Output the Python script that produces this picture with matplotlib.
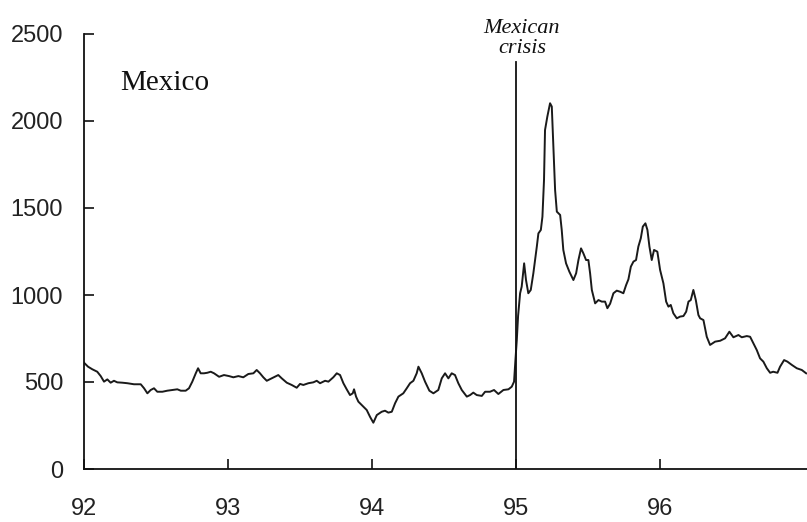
import matplotlib
matplotlib.use("Agg")
import matplotlib.pyplot as plt

# Mexico sovereign spread (basis points); x is decimal year, 92 = Jan 1992
years = [
    92.000, 92.028, 92.058, 92.092, 92.116, 92.139, 92.162, 92.185, 92.208, 92.231,
    92.266, 92.301, 92.347, 92.394, 92.417, 92.440, 92.463, 92.486, 92.509, 92.544,
    92.578, 92.613, 92.648, 92.672, 92.706, 92.729, 92.752, 92.776, 92.792, 92.810,
    92.833, 92.856, 92.880, 92.903, 92.938, 92.972, 93.007, 93.037, 93.072, 93.106,
    93.141, 93.176, 93.199, 93.222, 93.245, 93.269, 93.303, 93.349, 93.373, 93.408,
    93.442, 93.477, 93.500, 93.523, 93.558, 93.592, 93.616, 93.639, 93.674, 93.697,
    93.731, 93.755, 93.778, 93.801, 93.824, 93.847, 93.866, 93.875, 93.889, 93.905,
    93.928, 93.963, 93.986, 94.009, 94.033, 94.067, 94.090, 94.113, 94.137, 94.160,
    94.183, 94.217, 94.241, 94.264, 94.287, 94.310, 94.322, 94.345, 94.368, 94.398,
    94.426, 94.460, 94.484, 94.507, 94.530, 94.553, 94.576, 94.599, 94.623, 94.658,
    94.681, 94.703, 94.727, 94.762, 94.785, 94.819, 94.847, 94.877, 94.912, 94.947,
    94.970, 94.986, 94.995, 95.005, 95.014, 95.028, 95.039, 95.056, 95.069, 95.085,
    95.102, 95.120, 95.144, 95.155, 95.172, 95.183, 95.194, 95.201, 95.217, 95.236,
    95.248, 95.259, 95.271, 95.283, 95.306, 95.317, 95.328, 95.347, 95.370, 95.398,
    95.417, 95.433, 95.451, 95.467, 95.486, 95.502, 95.514, 95.526, 95.549, 95.572,
    95.595, 95.618, 95.634, 95.653, 95.676, 95.699, 95.722, 95.745, 95.764, 95.780,
    95.797, 95.815, 95.833, 95.849, 95.866, 95.880, 95.898, 95.912, 95.926, 95.942,
    95.958, 95.981, 96.000, 96.023, 96.042, 96.058, 96.074, 96.092, 96.116, 96.139,
    96.162, 96.181, 96.197, 96.213, 96.231, 96.248, 96.266, 96.278, 96.301, 96.324,
    96.347, 96.382, 96.417, 96.451, 96.481, 96.509, 96.544, 96.567, 96.602, 96.625,
    96.648, 96.671, 96.694, 96.717, 96.741, 96.764, 96.785, 96.815, 96.833, 96.861,
    96.884, 96.915, 96.949, 96.984, 97.014,
]
spread = [
    611, 588, 573, 559, 534, 502, 515, 496, 507, 498,
    496, 493, 487, 487, 464, 435, 454, 464, 444, 444,
    450, 454, 458, 450, 450, 464, 502, 550, 579, 550,
    550, 553, 559, 550, 530, 540, 534, 527, 534, 527,
    546, 550, 569, 550, 527, 507, 521, 540, 521, 496,
    483, 467, 489, 483, 493, 498, 507, 493, 507, 502,
    527, 550, 540, 493, 458, 425, 435, 458, 416, 387,
    368, 339, 300, 266, 310, 329, 335, 324, 329, 378,
    416, 435, 464, 493, 507, 550, 588, 550, 502, 450,
    435, 454, 521, 550, 521, 550, 540, 493, 454, 416,
    425, 439, 425, 420, 444, 444, 454, 431, 454, 458,
    473, 502, 620, 740, 880, 1010, 1048, 1182, 1086, 1010,
    1029, 1125, 1278, 1354, 1374, 1450, 1661, 1948, 2025, 2102,
    2083, 1852, 1603, 1479, 1460, 1374, 1259, 1182, 1134, 1086,
    1125, 1201, 1268, 1240, 1201, 1201, 1125, 1029, 952, 971,
    962, 962, 924, 950, 1010, 1025, 1019, 1010, 1057, 1090,
    1163, 1192, 1201, 1278, 1326, 1393, 1412, 1374, 1278, 1201,
    1259, 1249, 1144, 1067, 962, 933, 943, 895, 866, 876,
    879, 904, 962, 971, 1029, 971, 885, 866, 856, 760,
    713, 732, 737, 751, 789, 757, 770, 757, 764, 760,
    722, 684, 636, 617, 579, 553, 559, 553, 588, 626,
    617, 598, 579, 569, 550,
]

CRISIS_YEAR = 95.0
CRISIS_LINE_TOP = 2340

x_ticks = [92, 93, 94, 95, 96]
x_ticklabels = ["92", "93", "94", "95", "96"]
y_ticks = [0, 500, 1000, 1500, 2000, 2500]

INK = "#111111"
TICK_FONT = "Liberation Sans"
SERIF = "Liberation Serif"

fig = plt.figure(figsize=(8.07, 5.22), dpi=100)
ax = fig.add_axes([84 / 807, 1 - 469 / 522, 723 / 807, 435 / 522])

ax.plot(years, spread, color="#1a1a1a", linewidth=1.4, solid_joinstyle="round")
ax.plot([CRISIS_YEAR, CRISIS_YEAR], [0, CRISIS_LINE_TOP], color=INK, linewidth=1.3)

ax.set_xlim(92, 97.02)
ax.set_ylim(0, 2500)
ax.set_xticks(x_ticks)
ax.set_xticklabels(x_ticklabels)
ax.set_yticks(y_ticks)

for side in ("top", "right"):
    ax.spines[side].set_visible(False)
for side in ("left", "bottom"):
    ax.spines[side].set_color(INK)
    ax.spines[side].set_linewidth(1.3)

ax.tick_params(axis="both", direction="in", length=7, width=1.2, color=INK,
               labelcolor="#222222", labelsize=17)
ax.tick_params(axis="y", pad=15)
ax.tick_params(axis="x", pad=21)
for lbl in ax.get_xticklabels() + ax.get_yticklabels():
    lbl.set_fontfamily(TICK_FONT)

ax.text(92.25, 2178, "Mexico", family=SERIF, fontsize=21, color=INK, va="baseline")
ax.text(95.04, 2506, "Mexican", family=SERIF, style="italic", fontsize=16,
        color=INK, ha="center", va="baseline", clip_on=False)
ax.text(95.04, 2391, "crisis", family=SERIF, style="italic", fontsize=16,
        color=INK, ha="center", va="baseline", clip_on=False)

fig.savefig("out.png", dpi=100)
